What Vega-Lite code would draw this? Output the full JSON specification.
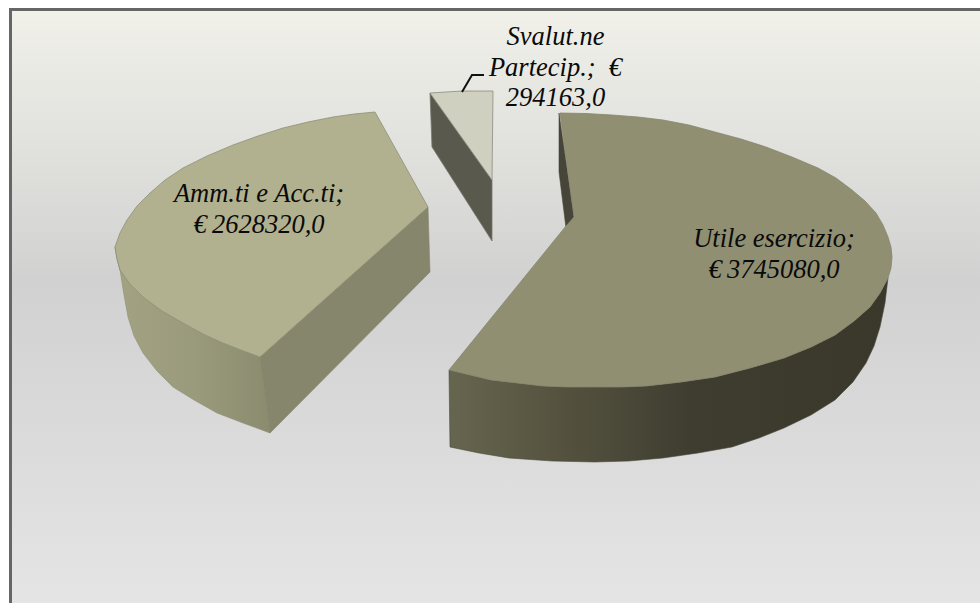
{"$schema":"https://vega.github.io/schema/vega-lite/v6.json","width":980,"height":603,"padding":0,"autosize":{"type":"fit","contains":"padding"},"background":"#ffffff","config":{"view":{"stroke":null}},
"datasets":{"frame":[{"x":10.5,"x2":1000,"y":9.5,"y2":640}],
"slices":[{"name":"Utile esercizio","value":3745080,"label":"Utile esercizio;\n€\u20093745080,0","x":774,"y":247},{"name":"Amm.ti e Acc.ti","value":2628320,"label":"Amm.ti e Acc.ti;\n€\u20092628320,0","x":259,"y":202},{"name":"Svalut.ne Partecip.","value":294163,"label":"Svalut.ne\nPartecip.;\u00a0\u00a0€\n294163,0","x":555.5,"y":45}],
"outline":[
{"f":"leader","x":462,"y":92},{"f":"leader","x":472,"y":75},{"f":"leader","x":484,"y":75},
{"f":"utTop","x":560,"y":113},{"f":"utTop","x":586,"y":113.5},{"f":"utTop","x":612,"y":115},{"f":"utTop","x":638,"y":117},{"f":"utTop","x":663,"y":120},{"f":"utTop","x":689,"y":125},{"f":"utTop","x":715,"y":132},{"f":"utTop","x":741,"y":139},{"f":"utTop","x":766,"y":147},{"f":"utTop","x":792,"y":157},{"f":"utTop","x":818,"y":168},{"f":"utTop","x":836,"y":178},{"f":"utTop","x":852,"y":190},{"f":"utTop","x":865,"y":201},{"f":"utTop","x":876,"y":213},{"f":"utTop","x":883,"y":225},{"f":"utTop","x":888,"y":237},{"f":"utTop","x":891,"y":247},{"f":"utTop","x":892,"y":257},{"f":"utTop","x":891,"y":268},{"f":"utTop","x":888,"y":278},{"f":"utTop","x":880,"y":293},{"f":"utTop","x":870,"y":307},{"f":"utTop","x":854,"y":321},{"f":"utTop","x":835,"y":335},{"f":"utTop","x":811,"y":347},{"f":"utTop","x":784,"y":358},{"f":"utTop","x":750,"y":368},{"f":"utTop","x":715,"y":377},{"f":"utTop","x":681,"y":382},{"f":"utTop","x":646,"y":386},{"f":"utTop","x":620,"y":387},{"f":"utTop","x":595,"y":387},{"f":"utTop","x":569,"y":387},{"f":"utTop","x":543,"y":386},{"f":"utTop","x":517,"y":383},{"f":"utTop","x":491,"y":380},{"f":"utTop","x":470,"y":375},{"f":"utTop","x":449,"y":370},{"f":"utTop","x":566,"y":226},{"f":"utTop","x":574,"y":217},{"f":"utTop","x":560,"y":113},
{"f":"utSide","x":449,"y":370},{"f":"utSide","x":470,"y":375},{"f":"utSide","x":491,"y":380},{"f":"utSide","x":517,"y":383},{"f":"utSide","x":543,"y":386},{"f":"utSide","x":569,"y":387},{"f":"utSide","x":595,"y":387},{"f":"utSide","x":620,"y":387},{"f":"utSide","x":646,"y":386},{"f":"utSide","x":681,"y":382},{"f":"utSide","x":715,"y":377},{"f":"utSide","x":750,"y":368},{"f":"utSide","x":784,"y":358},{"f":"utSide","x":811,"y":347},{"f":"utSide","x":835,"y":335},{"f":"utSide","x":854,"y":321},{"f":"utSide","x":870,"y":307},{"f":"utSide","x":880,"y":293},{"f":"utSide","x":888,"y":278},{"f":"utSide","x":885,"y":303},{"f":"utSide","x":880,"y":327},{"f":"utSide","x":874,"y":346},{"f":"utSide","x":866,"y":363},{"f":"utSide","x":853,"y":382},{"f":"utSide","x":835,"y":400},{"f":"utSide","x":811,"y":415},{"f":"utSide","x":784,"y":428},{"f":"utSide","x":759,"y":438},{"f":"utSide","x":732,"y":447},{"f":"utSide","x":698,"y":453},{"f":"utSide","x":663,"y":458},{"f":"utSide","x":629,"y":461},{"f":"utSide","x":595,"y":462},{"f":"utSide","x":552,"y":461},{"f":"utSide","x":509,"y":458},{"f":"utSide","x":479,"y":453},{"f":"utSide","x":450,"y":447},{"f":"utSide","x":449,"y":370},
{"f":"utIn","x":559,"y":113},{"f":"utIn","x":559,"y":172},{"f":"utIn","x":566,"y":228},{"f":"utIn","x":574,"y":217},{"f":"utIn","x":559,"y":113},
{"f":"amTop","x":375,"y":112},{"f":"amTop","x":354,"y":114},{"f":"amTop","x":333,"y":117},{"f":"amTop","x":308,"y":122},{"f":"amTop","x":283,"y":128},{"f":"amTop","x":258,"y":136},{"f":"amTop","x":233,"y":145},{"f":"amTop","x":207,"y":156},{"f":"amTop","x":183,"y":168},{"f":"amTop","x":165,"y":180},{"f":"amTop","x":150,"y":193},{"f":"amTop","x":137,"y":206},{"f":"amTop","x":127,"y":220},{"f":"amTop","x":120,"y":233},{"f":"amTop","x":115,"y":247},{"f":"amTop","x":117,"y":259},{"f":"amTop","x":120,"y":270},{"f":"amTop","x":130,"y":284},{"f":"amTop","x":143,"y":297},{"f":"amTop","x":162,"y":311},{"f":"amTop","x":183,"y":323},{"f":"amTop","x":203,"y":334},{"f":"amTop","x":223,"y":343},{"f":"amTop","x":241,"y":350},{"f":"amTop","x":260,"y":357},{"f":"amTop","x":428,"y":207},{"f":"amTop","x":375,"y":112},
{"f":"amSide","x":115,"y":247},{"f":"amSide","x":117,"y":259},{"f":"amSide","x":120,"y":270},{"f":"amSide","x":130,"y":284},{"f":"amSide","x":143,"y":297},{"f":"amSide","x":162,"y":311},{"f":"amSide","x":183,"y":323},{"f":"amSide","x":203,"y":334},{"f":"amSide","x":223,"y":343},{"f":"amSide","x":241,"y":350},{"f":"amSide","x":260,"y":357},{"f":"amSide","x":270,"y":433},{"f":"amSide","x":243,"y":423},{"f":"amSide","x":217,"y":413},{"f":"amSide","x":194,"y":400},{"f":"amSide","x":173,"y":387},{"f":"amSide","x":157,"y":371},{"f":"amSide","x":143,"y":353},{"f":"amSide","x":134,"y":336},{"f":"amSide","x":128,"y":317},{"f":"amSide","x":124,"y":295},{"f":"amSide","x":120,"y":270},{"f":"amSide","x":115,"y":247},
{"f":"amWall","x":260,"y":357},{"f":"amWall","x":428,"y":207},{"f":"amWall","x":430,"y":272},{"f":"amWall","x":270,"y":433},{"f":"amWall","x":260,"y":357},
{"f":"svTop","x":430,"y":93},{"f":"svTop","x":446,"y":92},{"f":"svTop","x":462,"y":91},{"f":"svTop","x":478,"y":91},{"f":"svTop","x":493,"y":91},{"f":"svTop","x":492,"y":180},{"f":"svTop","x":430,"y":93},
{"f":"svSide","x":430,"y":93},{"f":"svSide","x":492,"y":180},{"f":"svSide","x":492,"y":241},{"f":"svSide","x":432,"y":147},{"f":"svSide","x":430,"y":93}
]},
"encoding":{"x":{"field":"x","type":"quantitative","scale":{"domain":[0,980],"nice":false,"zero":false},"axis":null},"y":{"field":"y","type":"quantitative","scale":{"domain":[603,0],"nice":false,"zero":false},"axis":null}},
"layer":[
{"data":{"name":"frame"},"mark":{"type":"rect","clip":true,"stroke":"#666666","strokeWidth":3,"fill":{"gradient":"linear","x1":0,"y1":0,"x2":0,"y2":1,"stops":[{"offset":0,"color":"#f1f1ea"},{"offset":0.43,"color":"#d1d1d1"},{"offset":0.95,"color":"#e5e5e5"}]}},"encoding":{"x2":{"field":"x2"},"y2":{"field":"y2"}}},
{"data":{"name":"outline"},"transform":[{"filter":"datum.f==='amSide'"}],"mark":{"type":"line","stroke":"#8f8f73","strokeWidth":0.6,"fill":{"gradient":"linear","x1":0,"y1":0,"x2":1,"y2":0,"stops":[{"offset":0,"color":"#a3a384"},{"offset":0.5,"color":"#9a9a7c"},{"offset":1,"color":"#8b8b6f"}]}},"encoding":{"order":{"value":null}}},
{"data":{"name":"outline"},"transform":[{"filter":"datum.f==='amWall'"}],"mark":{"type":"line","stroke":"#85856c","strokeWidth":0.6,"fill":"#86866d"},"encoding":{"order":{"value":null}}},
{"data":{"name":"outline"},"transform":[{"filter":"datum.f==='amTop'"}],"mark":{"type":"line","stroke":"#8f8f78","strokeWidth":0.8,"fill":"#b1b18f"},"encoding":{"order":{"value":null}}},
{"data":{"name":"outline"},"transform":[{"filter":"datum.f==='svSide'"}],"mark":{"type":"line","stroke":"#77776c","strokeWidth":0.8,"fill":"#59594e"},"encoding":{"order":{"value":null}}},
{"data":{"name":"outline"},"transform":[{"filter":"datum.f==='svTop'"}],"mark":{"type":"line","stroke":"#8c8c80","strokeWidth":0.8,"fill":"#d0d0c0"},"encoding":{"order":{"value":null}}},
{"data":{"name":"outline"},"transform":[{"filter":"datum.f==='utIn'"}],"mark":{"type":"line","stroke":"#4a4839","strokeWidth":0.6,"fill":"#47453a"},"encoding":{"order":{"value":null}}},
{"data":{"name":"outline"},"transform":[{"filter":"datum.f==='utSide'"}],"mark":{"type":"line","stroke":"#4a4839","strokeWidth":0.6,"fill":{"gradient":"linear","x1":0,"y1":0,"x2":1,"y2":0,"stops":[{"offset":0,"color":"#66654f"},{"offset":0.25,"color":"#55533f"},{"offset":0.55,"color":"#3f3d30"},{"offset":1,"color":"#3a382b"}]}},"encoding":{"order":{"value":null}}},
{"data":{"name":"outline"},"transform":[{"filter":"datum.f==='utTop'"}],"mark":{"type":"line","stroke":"#86866d","strokeWidth":0.8,"fill":"#908f72"},"encoding":{"order":{"value":null}}},
{"data":{"name":"outline"},"transform":[{"filter":"datum.f==='leader'"}],"mark":{"type":"line","stroke":"#111111","strokeWidth":2},"encoding":{"order":{"value":null}}},
{"data":{"name":"slices"},"mark":{"type":"text","font":"Liberation Serif","fontStyle":"italic","fontSize":26.5,"lineBreak":"\n","lineHeight":30.5,"align":"center","baseline":"alphabetic","color":"#0a0a0a"},"encoding":{"text":{"field":"label"}}}
]}
